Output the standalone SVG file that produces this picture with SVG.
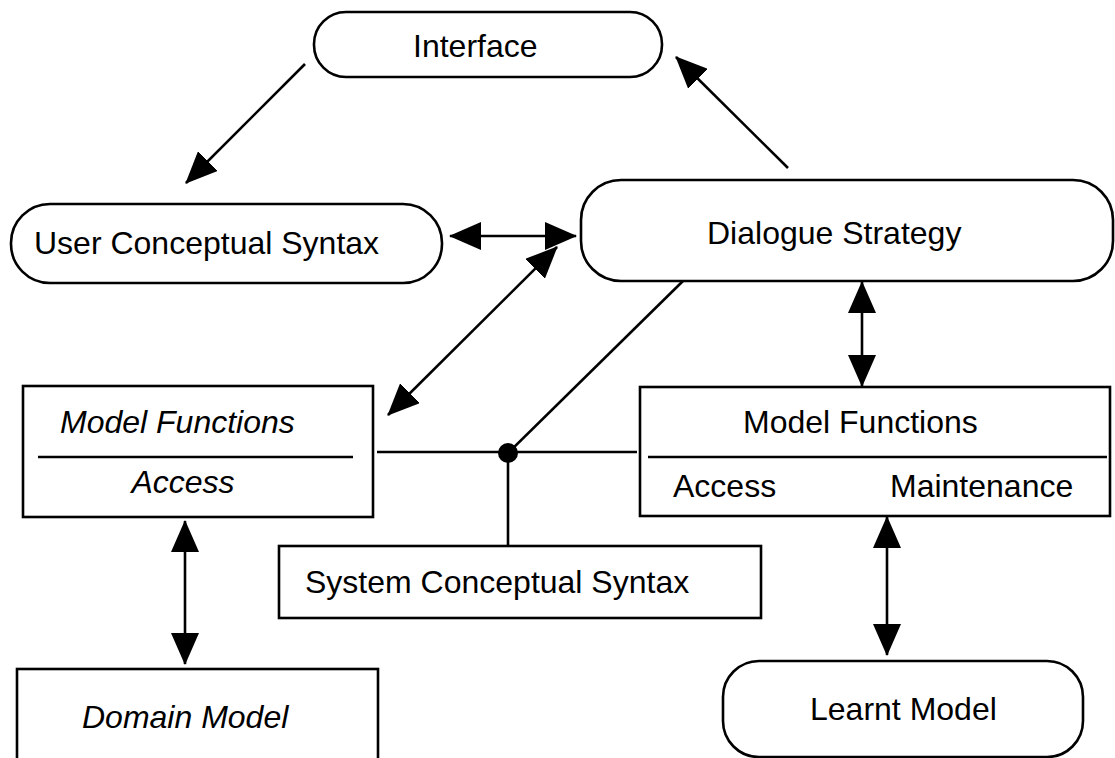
<svg xmlns="http://www.w3.org/2000/svg" width="1115" height="758" viewBox="0 0 1115 758">
<style>
.box{fill:#fff;stroke:#000;stroke-width:2.6}
.ln{fill:none;stroke:#000;stroke-width:2.6}
.t{font-family:"Liberation Sans",Arial,sans-serif;font-size:32px;fill:#000}
.i{font-style:italic}
</style>
<defs>
<marker id="ah" viewBox="0 0 32 28" refX="31" refY="14" markerWidth="32" markerHeight="28" markerUnits="userSpaceOnUse" orient="auto-start-reverse">
<path d="M0,0 L32,14 L0,28 Z" fill="#000"/>
</marker>
</defs>
<rect width="1115" height="758" fill="#fff"/>
<g id="connectors">
<line class="ln" x1="305" y1="64" x2="186" y2="183" marker-end="url(#ah)"/>
<line class="ln" x1="788" y1="168" x2="676" y2="57" marker-end="url(#ah)"/>
<line class="ln" x1="450" y1="236" x2="576" y2="236" marker-start="url(#ah)" marker-end="url(#ah)"/>
<line class="ln" x1="388" y1="415" x2="557" y2="247" marker-start="url(#ah)" marker-end="url(#ah)"/>
<line class="ln" x1="862" y1="282" x2="862" y2="386" marker-start="url(#ah)" marker-end="url(#ah)"/>
<line class="ln" x1="185" y1="521" x2="185" y2="664" marker-start="url(#ah)" marker-end="url(#ah)"/>
<line class="ln" x1="887" y1="517" x2="887" y2="655" marker-start="url(#ah)" marker-end="url(#ah)"/>
<line class="ln" x1="377" y1="452" x2="637" y2="452"/>
<line class="ln" x1="508" y1="453" x2="508" y2="546"/>
<line class="ln" x1="508" y1="453" x2="684" y2="280"/>
<circle cx="508" cy="453" r="10" fill="#000"/>
</g>
<g id="interface">
<rect class="box" x="314" y="12" width="348" height="65" rx="32" ry="32"/>
<text class="t" x="413" y="57">Interface</text>
</g>
<g id="user-conceptual-syntax">
<rect class="box" x="11" y="204" width="431" height="79" rx="39" ry="39"/>
<text class="t" x="34" y="254">User Conceptual Syntax</text>
</g>
<g id="dialogue-strategy">
<rect class="box" x="581" y="180" width="532" height="101" rx="40" ry="40"/>
<text class="t" x="707" y="244">Dialogue Strategy</text>
</g>
<g id="model-functions-left">
<rect class="box" x="23" y="386" width="350" height="131"/>
<line class="ln" x1="38" y1="457" x2="353" y2="457"/>
<text class="t i" x="60" y="433">Model Functions</text>
<text class="t i" x="183" y="493" text-anchor="middle">Access</text>
</g>
<g id="model-functions-right">
<rect class="box" x="640" y="387" width="470" height="129"/>
<line class="ln" x1="648" y1="457" x2="1107" y2="457"/>
<text class="t" x="743" y="433">Model Functions</text>
<text class="t" x="673" y="497">Access</text>
<text class="t" x="890" y="497">Maintenance</text>
</g>
<g id="system-conceptual-syntax">
<rect class="box" x="279" y="546" width="482" height="72"/>
<text class="t" x="305" y="593">System Conceptual Syntax</text>
</g>
<g id="domain-model">
<rect class="box" x="17" y="669" width="361" height="110"/>
<text class="t i" x="82" y="728">Domain Model</text>
</g>
<g id="learnt-model">
<rect class="box" x="723" y="661" width="360" height="96" rx="36" ry="36"/>
<text class="t" x="810" y="720">Learnt Model</text>
</g>
</svg>
